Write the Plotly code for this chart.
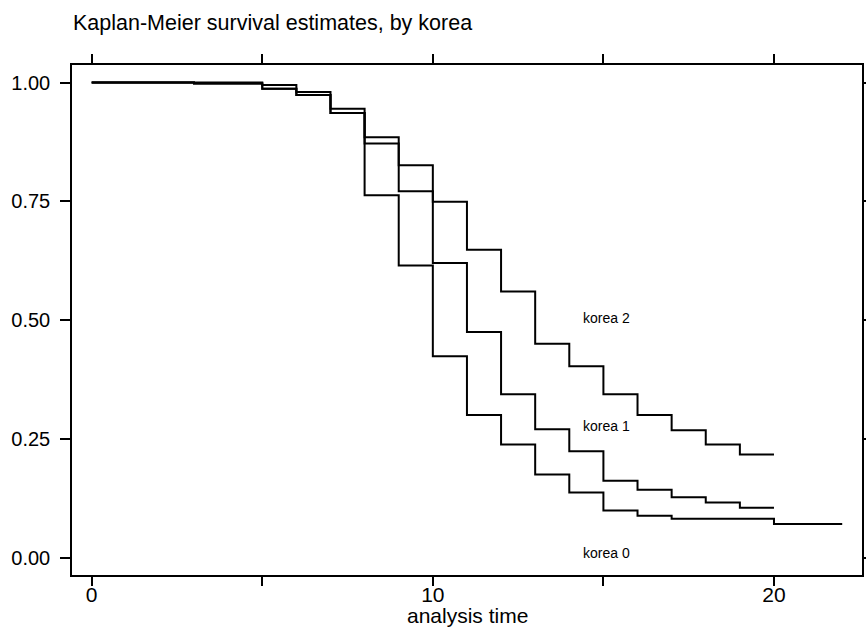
import plotly.graph_objects as go

# Kaplan-Meier step estimates
korea0_t = [0, 5, 6, 7, 8, 9, 10, 11, 12, 13, 14, 15, 16, 17, 20, 22]
korea0_s = [1.0, 0.987, 0.974, 0.936, 0.763, 0.615, 0.424, 0.300, 0.238, 0.175,
            0.137, 0.099, 0.088, 0.082, 0.071, 0.071]

korea1_t = [0, 3, 5, 6, 7, 8, 9, 10, 11, 12, 13, 14, 15, 16, 17, 18, 19, 20]
korea1_s = [1.0, 0.998, 0.987, 0.974, 0.936, 0.872, 0.771, 0.620, 0.475, 0.344,
            0.270, 0.224, 0.162, 0.143, 0.127, 0.116, 0.105, 0.105]

korea2_t = [0, 3, 5, 6, 7, 8, 9, 10, 11, 12, 13, 14, 15, 16, 17, 18, 19, 20]
korea2_s = [1.0, 0.998, 0.995, 0.980, 0.945, 0.885, 0.826, 0.749, 0.648, 0.560,
            0.450, 0.403, 0.344, 0.300, 0.268, 0.238, 0.217, 0.217]

labels = ["korea 2", "korea 1", "korea 0"]
label_x = [15.1, 15.1, 15.1]
label_y = [0.505, 0.278, 0.010]

x_ticks = [0, 5, 10, 15, 20]
x_ticktext = ["0", "", "10", "", "20"]
y_ticks = [0, 0.25, 0.5, 0.75, 1.0]
y_ticktext = ["0.00", "0.25", "0.50", "0.75", "1.00"]

FONT = "Liberation Sans, Arial, sans-serif"
X_RANGE = [-0.577, 22.58]

fig = go.Figure()
for t, s, name in [(korea0_t, korea0_s, "korea 0"),
                   (korea1_t, korea1_s, "korea 1"),
                   (korea2_t, korea2_s, "korea 2")]:
    fig.add_trace(go.Scatter(x=t, y=s, mode="lines", line_shape="hv",
                             line=dict(color="black", width=2), name=name))

# empty trace so the label-only x axis gets drawn
fig.add_trace(go.Scatter(x=[None], y=[None], xaxis="x2", yaxis="y",
                         mode="lines", hoverinfo="skip", showlegend=False))

for txt, lx, ly in zip(labels, label_x, label_y):
    fig.add_annotation(x=lx, y=ly, text=txt, showarrow=False,
                       font=dict(size=14, color="black", family=FONT))

# x-axis title as an annotation so it can sit close under the tick labels
fig.add_annotation(x=0.5, y=-0.079, xref="paper", yref="paper",
                   text="analysis time", showarrow=False,
                   xanchor="center", yanchor="middle",
                   font=dict(size=21, color="black", family=FONT))

fig.update_layout(
    width=866, height=630,
    margin=dict(l=72, r=4, t=65, b=55),
    paper_bgcolor="white", plot_bgcolor="white",
    showlegend=False,
    font=dict(family=FONT, color="black"),
    title=dict(text="Kaplan-Meier survival estimates, by korea",
               x=73 / 866, xanchor="left", xref="container",
               y=1 - 22 / 630, yanchor="middle", yref="container",
               font=dict(size=21.5)),
    # second x axis only carries the tick labels, tucked in close to the frame
    xaxis2=dict(
        overlaying="x", anchor="y", side="bottom", range=X_RANGE,
        tickvals=x_ticks, ticktext=x_ticktext, ticks="", showgrid=False,
        zeroline=False, showline=False, tickfont=dict(size=21),
        automargin=False, ticklabelstandoff=5,
    ),
)
fig.update_layout(xaxis=dict(
    range=X_RANGE, tickvals=x_ticks, showticklabels=False,
    ticks="outside", ticklen=9, tickwidth=1.5, tickcolor="black",
    showgrid=False, zeroline=False, showline=True, linecolor="black",
    linewidth=1.5, mirror="ticks", automargin=False,
))
fig.update_yaxes(
    range=[-0.0366, 1.037], tickvals=y_ticks, ticktext=y_ticktext,
    ticks="outside", ticklen=10, tickwidth=1.5, tickcolor="black",
    showgrid=False, zeroline=False, showline=True, linecolor="black",
    linewidth=1.5, mirror="ticks", tickfont=dict(size=20), automargin=False,
    ticklabelstandoff=6,
)

# the page body has an 8px default margin; drop it so the figure sits at 0,0
fig.write_html("out.html", config={"displayModeBar": False},
               post_script="document.body.style.margin='0';")
